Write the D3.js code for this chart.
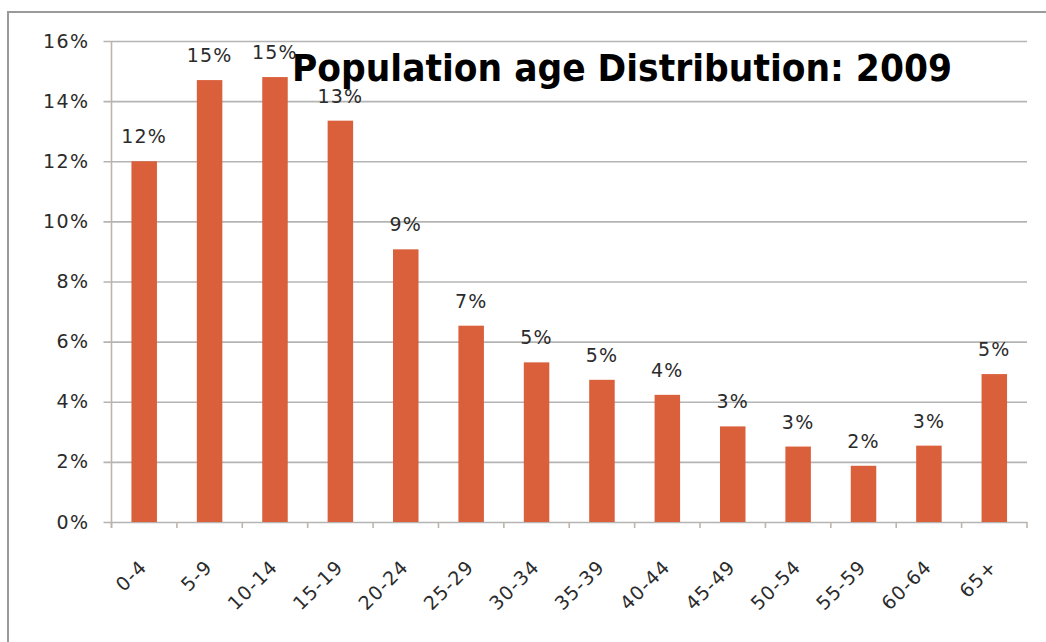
<!DOCTYPE html>
<html>
<head>
<meta charset="utf-8">
<script src="https://cdn.jsdelivr.net/npm/d3@7"></script>
<style>
  html, body { margin: 0; padding: 0; background: #ffffff; }
  svg { display: block; }
</style>
</head>
<body>
<div id="chart"></div>
<script>
// Age groups and their share of the population (percent)
const ageGroups = ["0-4", "5-9", "10-14", "15-19", "20-24", "25-29", "30-34",
                   "35-39", "40-44", "45-49", "50-54", "55-59", "60-64", "65+"];
const shares = [12.0, 14.7, 14.8, 13.35, 9.07, 6.53, 5.31,
                4.73, 4.23, 3.18, 2.51, 1.87, 2.54, 4.92];
const yTicks = [0, 2, 4, 6, 8, 10, 12, 14, 16];
const chartTitle = "Population age Distribution: 2009";

const W = 1046, H = 642;
const plot = { left: 111.5, right: 1027, top: 41, bottom: 522 };
const labelFont = "'DejaVu Sans', Verdana, sans-serif";
const barColor = "#d9603b";

const svg = d3.select("#chart").append("svg")
  .attr("width", W).attr("height", H);

// outer frame of the chart area
svg.append("path")
  .attr("d", `M8,${H + 5} L8,12 L${W + 5},12`)
  .attr("fill", "none")
  .attr("stroke", "#9a9a9a")
  .attr("stroke-width", 2);

const x = d3.scaleBand()
  .domain(ageGroups)
  .range([plot.left, plot.right])
  .paddingInner(0.61)
  .paddingOuter(0.305);

const y = d3.scaleLinear()
  .domain([0, 16])
  .range([plot.bottom, plot.top]);

// horizontal gridlines with short outward ticks
const yAxis = d3.axisLeft(y)
  .tickValues(yTicks)
  .tickSize(-(plot.right - plot.left))
  .tickFormat(d => d + "%")
  .tickPadding(22);

const gy = svg.append("g")
  .attr("transform", `translate(${plot.left},0)`)
  .call(yAxis);
gy.select(".domain").remove();
gy.selectAll(".tick line")
  .attr("x1", -8)
  .attr("stroke", "#b4b4b4")
  .attr("stroke-width", 1.6);
gy.selectAll(".tick text")
  .attr("fill", "#2b2b2b")
  .style("font-family", labelFont)
  .style("font-size", "19px")
  .style("letter-spacing", "1.4px");

// vertical axis line
svg.append("line")
  .attr("x1", plot.left).attr("x2", plot.left)
  .attr("y1", plot.top).attr("y2", plot.bottom + 6)
  .attr("stroke", "#bdb5ad")
  .attr("stroke-width", 1.6);

// category boundary ticks on the baseline
const step = x.step();
const boundaries = d3.range(ageGroups.length + 1).map(i => plot.left + i * step);
svg.append("g").selectAll("line")
  .data(boundaries)
  .join("line")
  .attr("x1", d => d).attr("x2", d => d)
  .attr("y1", plot.bottom).attr("y2", plot.bottom + 6)
  .attr("stroke", "#bdb5ad")
  .attr("stroke-width", 1.6);

// bars
svg.append("g").selectAll("rect")
  .data(ageGroups)
  .join("rect")
  .attr("x", d => x(d))
  .attr("width", x.bandwidth())
  .attr("y", (d, i) => y(shares[i]))
  .attr("height", (d, i) => y(0) - y(shares[i]))
  .attr("fill", barColor);

// value labels above the bars
svg.append("g").selectAll("text")
  .data(ageGroups)
  .join("text")
  .attr("x", d => x(d) + x.bandwidth() / 2)
  .attr("y", (d, i) => y(shares[i]) - 18)
  .attr("text-anchor", "middle")
  .attr("fill", "#2b2b2b")
  .style("font-family", labelFont)
  .style("font-size", "19px")
  .style("letter-spacing", "1.2px")
  .text((d, i) => Math.round(shares[i]) + "%");

// rotated category labels
svg.append("g").selectAll("text")
  .data(ageGroups)
  .join("text")
  .attr("transform", d => `translate(${x(d) + x.bandwidth() / 2 + 4},568) rotate(-45)`)
  .attr("text-anchor", "end")
  .attr("fill", "#2b2b2b")
  .style("font-family", labelFont)
  .style("font-size", "19px")
  .style("letter-spacing", "1.2px")
  .text(d => d);

// chart title, drawn on top of everything
svg.append("text")
  .attr("x", 292)
  .attr("y", 81)
  .attr("textLength", 660)
  .attr("lengthAdjust", "spacingAndGlyphs")
  .attr("fill", "#000")
  .style("font-family", "'DejaVu Sans', 'Liberation Sans', sans-serif")
  .style("font-weight", "bold")
  .style("font-stretch", "condensed")
  .style("font-size", "38px")
  .text(chartTitle);
</script>
</body>
</html>
